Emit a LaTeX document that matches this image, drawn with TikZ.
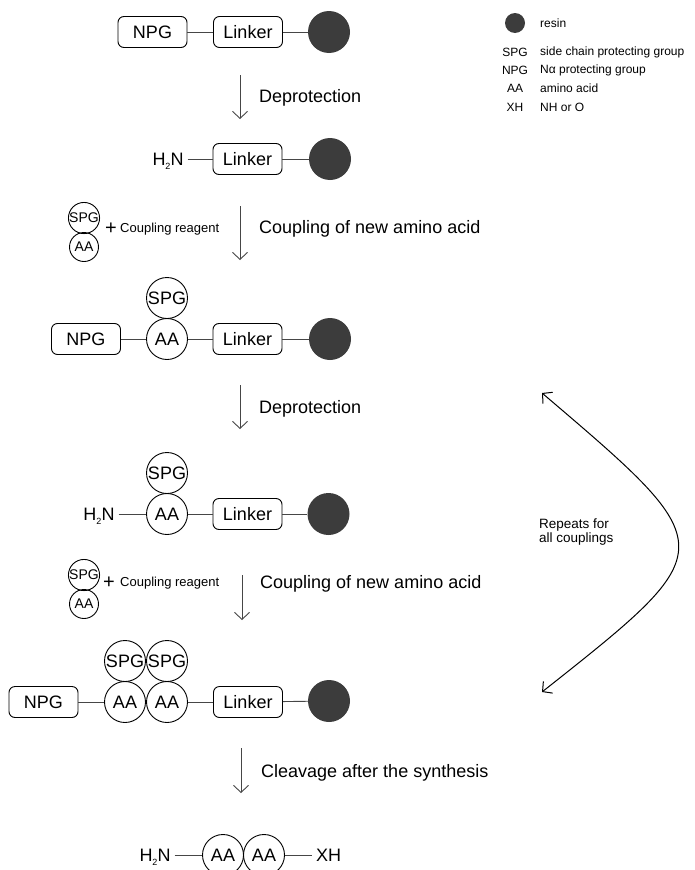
\documentclass[tikz,border=0pt]{standalone}
\usepackage{fontspec}
\setmainfont{Liberation Sans}
\usetikzlibrary{arrows.meta}
\definecolor{conline}{RGB}{70,70,70}
\definecolor{resinfill}{RGB}{60,60,60}
\newcommand{\bigtxt}{\fontsize{18}{20}\selectfont}
\newcommand{\hzn}{H\smash{\raisebox{-4.5pt}{\fontsize{9}{9}\selectfont 2}}N}
\tikzset{
  linkbox/.style={draw, line width=0.9pt, rounded corners=6pt, minimum width=69pt, minimum height=31pt, inner sep=0pt, font=\bigtxt},
  aacirc/.style={draw, line width=0.9pt, circle, minimum size=41pt, inner sep=0pt, font=\bigtxt},
  smallcirc/.style={draw, line width=0.9pt, circle, minimum size=29pt, inner sep=0pt, font=\fontsize{14}{14}\selectfont},
  resin/.style={circle, fill=resinfill, minimum size=42pt, inner sep=0pt},
  plain/.style={inner sep=4pt, font=\bigtxt},
  con/.style={draw=conline, line width=0.9pt},
  steparrow/.style={draw=conline, line width=0.9pt, -{Straight Barb[length=7pt,width=15pt]}},
  lbl/.style={anchor=west, inner sep=0pt, font=\bigtxt},
  leg/.style={inner sep=0pt, font=\fontsize{12}{13}\selectfont},
}
\begin{document}
\begin{tikzpicture}[x=1pt,y=-1pt]
\useasboundingbox (0,0) rectangle (695,870);
% Row 1
\node[linkbox] (npg1) at (152.5,32) {NPG};
\node[linkbox] (lk1) at (248,32) {Linker};
\node[resin] (rs1) at (329,32) {};
\draw[con] (npg1) -- (lk1);
\draw[con] (lk1) -- (rs1);
% Arrow 1
\coordinate (a1s) at (240,75);
\coordinate (a1e) at (240,119);
\draw[steparrow] (a1s) -- (a1e);
\node[lbl] (t1) at (259,98) {Deprotection};
% Row 2
\node[plain] (h2n2) at (168,159) {\hzn};
\node[linkbox] (lk2) at (247.5,159) {Linker};
\node[resin] (rs2) at (330,159) {};
\draw[con] (h2n2) -- (lk2);
\draw[con] (lk2) -- (rs2);
% Coupling 1
\node[smallcirc] (cspg1) at (84,218) {SPG};
\node[smallcirc] (caa1) at (84,247) {AA};
\node[inner sep=0pt, font=\fontsize{20}{20}\selectfont] (plus1) at (111,229) {+};
\node[anchor=west, inner sep=0pt, font=\fontsize{13}{14}\selectfont] (cr1) at (120,229) {Coupling reagent};
\coordinate (a2s) at (240,206);
\coordinate (a2e) at (240,260);
\draw[steparrow] (a2s) -- (a2e);
\node[lbl] (t2) at (259,229) {Coupling of new amino acid};
% Row 4
\node[linkbox] (npg4) at (86,339) {NPG};
\node[aacirc] (aa4) at (167,339) {AA};
\node[aacirc] (spg4) at (167,298) {SPG};
\node[linkbox] (lk4) at (247.5,339) {Linker};
\node[resin] (rs4) at (330,339) {};
\draw[con] (npg4) -- (aa4);
\draw[con] (aa4) -- (lk4);
\draw[con] (lk4) -- (rs4);
% Arrow 3
\coordinate (a3s) at (240,385);
\coordinate (a3e) at (240,429);
\draw[steparrow] (a3s) -- (a3e);
\node[lbl] (t3) at (259,409) {Deprotection};
% Row 5
\node[plain] (h2n5) at (99,514) {\hzn};
\node[aacirc] (aa5) at (167,514) {AA};
\node[aacirc] (spg5) at (167,473) {SPG};
\node[linkbox] (lk5) at (247.5,514) {Linker};
\node[resin] (rs5) at (328.5,514) {};
\draw[con] (h2n5) -- (aa5);
\draw[con] (aa5) -- (lk5);
\draw[con] (lk5) -- (rs5);
% Coupling 2
\node[smallcirc] (cspg2) at (84,575) {SPG};
\node[smallcirc] (caa2) at (84,604) {AA};
\node[inner sep=0pt, font=\fontsize{20}{20}\selectfont] (plus2) at (109,583) {+};
\node[anchor=west, inner sep=0pt, font=\fontsize{13}{14}\selectfont] (cr2) at (120,583) {Coupling reagent};
\coordinate (a4s) at (242,575);
\coordinate (a4e) at (242,620);
\draw[steparrow] (a4s) -- (a4e);
\node[lbl] (t4) at (260,584) {Coupling of new amino acid};
% Row 7
\node[linkbox] (npg7) at (43.5,702) {NPG};
\node[aacirc] (aa7a) at (125,702) {AA};
\node[aacirc] (aa7b) at (167,702) {AA};
\node[aacirc] (spg7a) at (125,661) {SPG};
\node[aacirc] (spg7b) at (167,661) {SPG};
\node[linkbox] (lk7) at (248,702) {Linker};
\node[resin] (rs7) at (329,701) {};
\draw[con] (npg7) -- (aa7a);
\draw[con] (aa7b) -- (lk7);
\draw[con] (lk7) -- (rs7);
% Arrow 5
\coordinate (a5s) at (241,748);
\coordinate (a5e) at (241,793);
\draw[steparrow] (a5s) -- (a5e);
\node[lbl] (t5) at (261,773) {Cleavage after the synthesis};
% Row 8
\node[plain] (h2n8) at (155,855) {\hzn};
\node[aacirc] (aa8a) at (223,855) {AA};
\node[aacirc] (aa8b) at (264,855) {AA};
\node[plain] (xh8) at (328.5,855) {XH};
\draw[con] (h2n8) -- (aa8a);
\draw[con] (aa8b) -- (xh8);
% Legend
\node[circle, fill=resinfill, minimum size=20pt, inner sep=0pt] (legres) at (515,23) {};
\node[leg, anchor=west] (legrest) at (540,23) {resin};
\node[leg] (lspg) at (515,52) {SPG};
\node[leg, anchor=west] (lspgt) at (540,52) {side chain protecting group};
\node[leg] (lnpg) at (515,70) {NPG};
\node[leg, anchor=west] (lnpgt) at (540,70) {Nα protecting group};
\node[leg] (laa) at (515,88) {AA};
\node[leg, anchor=west] (laat) at (540,88) {amino acid};
\node[leg] (lxh) at (515,107) {XH};
\node[leg, anchor=west] (lxht) at (540,107) {NH or O};
% Repeat arrow
\coordinate (rtop) at (542,393);
\coordinate (rbot) at (542,692);
\draw[line width=1pt, {Straight Barb[length=7pt,width=15pt]}-{Straight Barb[length=7pt,width=15pt]}] (rtop) .. controls (724,548) .. (rbot);
\node[anchor=west, align=left, inner sep=0pt, font=\fontsize{13.5}{14}\selectfont] (rep) at (539,532) {Repeats for\\all couplings};
\end{tikzpicture}
\end{document}
